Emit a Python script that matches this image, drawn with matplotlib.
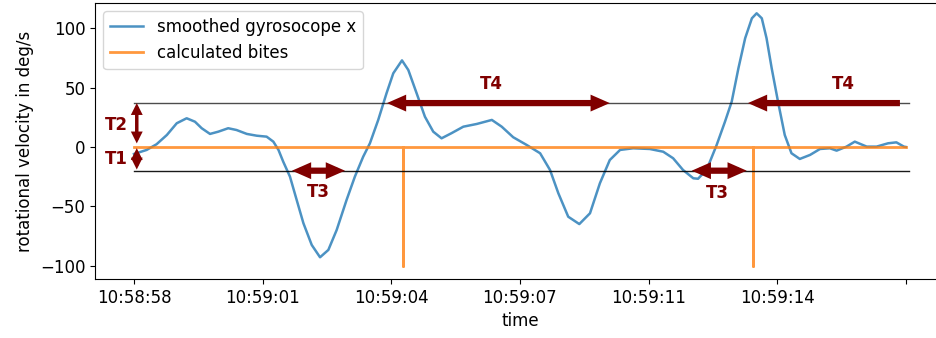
import matplotlib
matplotlib.use("Agg")
import matplotlib.pyplot as plt

# time in seconds since 10:58:58
t = [0.00, 0.32, 0.57, 0.83, 1.08, 1.33, 1.54, 1.71, 1.92, 2.13, 2.38, 2.59,
     2.85, 3.10, 3.35, 3.52, 3.65, 3.77, 3.94, 4.11, 4.28, 4.49, 4.70, 4.91,
     5.12, 5.37, 5.58, 5.79, 5.96, 6.17, 6.38, 6.55, 6.77, 6.93, 7.14, 7.35,
     7.56, 7.77, 8.02, 8.32, 8.66, 9.04, 9.29, 9.58, 9.92, 10.26, 10.51,
     10.72, 10.97, 11.25, 11.52, 11.77, 12.02, 12.28, 12.61, 13.03, 13.37,
     13.62, 13.87, 14.13, 14.25, 14.47, 14.72, 14.93, 15.10, 15.27, 15.44,
     15.61, 15.73, 15.86, 15.98, 16.11, 16.27, 16.44, 16.61, 16.82, 17.08,
     17.33, 17.58, 17.75, 18.00, 18.21, 18.51, 18.76, 19.05, 19.26, 19.45,
     19.50]
gyro_x = [-5.9, -2.5, 2.3, 10.1, 20, 24.2, 21.3, 15.8, 11, 12.9, 15.8, 14.3,
          11, 9.5, 8.7, 4.5, -2.5, -12.4, -25, -44.7, -64.3, -82.6, -93, -86.8,
          -70, -44.7, -25, -8.2, 3.1, 22.8, 45.3, 62.1, 73, 64.9, 45.3, 25.5,
          12.9, 7.3, 11.6, 17.1, 19.4, 22.8, 17.1, 8.2, 1.7, -5.3, -19.4,
          -39, -58.8, -65, -55.9, -30.6, -11, -2.5, -1.1, -1.7, -4,
          -9.5, -19.4, -26.4, -26.8, -19, 1.7, 21.3, 38.2, 66.4, 91.7,
          108.5, 112.7, 108.5, 91.7, 66.4, 38.2, 10.1, -5.3, -10.1, -6.7,
          -1.7, -1.1, -3.1, 0.3, 4.5, 0.3, 0.3, 3.1, 3.9, 0.3,
          0]

# calculated bites
bite_t = [0.0, 6.79, 6.79, 6.79, 15.64, 15.64, 15.64, 19.5]
bite_v = [0, 0, -100, 0, 0, -100, 0, 0]

upper_thr = 37
lower_thr = -20

tick_pos = [0, 3.25, 6.5, 9.75, 13.0, 16.25, 19.5]
tick_labels = ["10:58:58", "10:59:01", "10:59:04", "10:59:07", "10:59:11",
               "10:59:14", ""]

plt.rcParams['font.size'] = 12

fig = plt.figure(figsize=(9.37, 3.38), dpi=100)
ax = fig.add_axes([0.1014, 0.1746, 0.9072, 0.8166])

ax.plot(t, gyro_x, color='C0', lw=1.8, alpha=0.8, label='smoothed gyrosocope x')
ax.plot(bite_t, bite_v, color='C1', lw=2, alpha=0.8, label='calculated bites')

# threshold lines
ax.plot([0, 19.58], [upper_thr, upper_thr], color='k', lw=1, alpha=0.7)
ax.plot([0, 19.58], [lower_thr, lower_thr], color='k', lw=1, alpha=0.9)

red = '#800000'


def draw_arrow(x0, y0, x1, y1, style, lw=4.5, ms=12):
    ax.annotate('', xy=(x1, y1), xytext=(x0, y0),
                arrowprops=dict(arrowstyle=style, color=red, lw=lw,
                                mutation_scale=ms, shrinkA=0, shrinkB=0,
                                joinstyle='miter', capstyle='butt'))


big = '<|-|>,head_length=0.5,head_width=0.22'
small = '<|-|>,head_length=0.5,head_width=0.25'
# T1 / T2 vertical arrows
draw_arrow(0.07, 3, 0.07, upper_thr, small, lw=2.5, ms=9)
draw_arrow(0.07, -1, 0.07, lower_thr + 1, small, lw=2.5, ms=9)
# T3 arrows
draw_arrow(3.99, lower_thr, 5.33, lower_thr, big)
draw_arrow(14.09, lower_thr, 15.48, lower_thr, big)
# T4 arrows
draw_arrow(6.39, upper_thr, 12.02, upper_thr, big)
draw_arrow(19.35, upper_thr, 15.51, upper_thr, '-|>,head_length=0.5,head_width=0.22')

lbl = dict(color=red, fontweight='bold', fontsize=12, ha='center', va='center')
ax.text(-0.44, 18.5, 'T2', **lbl)
ax.text(-0.44, -10.4, 'T1', **lbl)
ax.text(4.67, -38, 'T3', **lbl)
ax.text(14.75, -39, 'T3', **lbl)
ax.text(9.04, 53, 'T4', **lbl)
ax.text(17.91, 53, 'T4', **lbl)

ax.set_xlim(-0.985, 20.49)
ax.set_ylim(-111.3, 121.4)
ax.set_xticks(tick_pos)
ax.set_xticklabels(tick_labels)
ax.set_yticks([-100, -50, 0, 50, 100])
ax.set_xlabel('time')
ax.set_ylabel('rotational velocity in deg/s')
ax.legend(loc='upper left')

fig.savefig('out.png', dpi=100)
